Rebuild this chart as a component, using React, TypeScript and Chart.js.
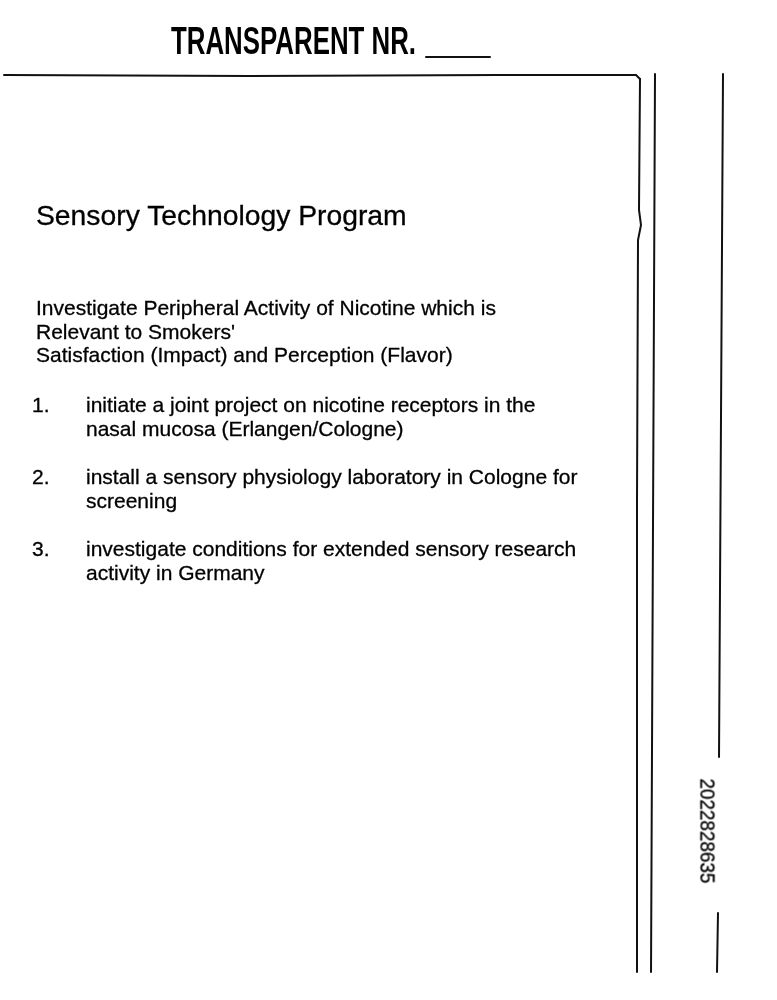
import React, { useEffect, useRef } from 'react';
import Chart from 'chart.js/auto';

// ruled frame of the transparency sheet, in page pixels (x right, y down)
const topRule = [
  { x: 4, y: 75 }, { x: 250, y: 76 }, { x: 500, y: 75 }, { x: 636, y: 75 }, { x: 640, y: 79 },
];
const innerFrame = [
  { x: 640, y: 79 }, { x: 639, y: 210 }, { x: 641, y: 225 }, { x: 638, y: 240 }, { x: 637, y: 500 }, { x: 637, y: 972 },
];
const middleLine = [{ x: 655, y: 74 }, { x: 651, y: 972 }];
const outerUpper = [{ x: 723, y: 74 }, { x: 719, y: 757 }];
const outerLower = [{ x: 718, y: 913 }, { x: 717, y: 972 }];
const blankUnderline = [{ x: 426, y: 57 }, { x: 490, y: 57 }];

const titleText = 'TRANSPARENT NR.';
const headingText = 'Sensory Technology Program';
const introLines = [
  'Investigate Peripheral Activity of Nicotine which is',
  'Relevant to Smokers\'',
  'Satisfaction (Impact) and Perception (Flavor)',
];
const itemNumbers = ['1.', '2.', '3.'];
const itemLines = [
  ['initiate a joint project on nicotine receptors in the', 'nasal mucosa (Erlangen/Cologne)'],
  ['install a sensory physiology laboratory in Cologne for', 'screening'],
  ['investigate conditions for extended sensory research', 'activity in Germany'],
];
const docNumber = '2022828635';

const body = "'Liberation Sans', Arial, Helvetica, sans-serif";

const App = () => {
  const chartRef = useRef<HTMLCanvasElement>(null);
  const chartInstance = useRef<Chart | null>(null);

  useEffect(() => {
    if (!chartRef.current) return;
    if (chartInstance.current) chartInstance.current.destroy();
    const ctx = chartRef.current.getContext('2d');
    if (!ctx) return;

    const rule = (data: { x: number; y: number }[], width: number) => ({
      data,
      showLine: true,
      borderColor: '#111',
      borderWidth: width,
      pointRadius: 0,
      tension: 0,
      fill: false,
    });

    chartInstance.current = new Chart(ctx, {
      type: 'scatter',
      data: {
        datasets: [
          rule(topRule, 2),
          rule(innerFrame, 2),
          rule(middleLine, 2),
          rule(outerUpper, 2),
          rule(outerLower, 2),
          rule(blankUnderline, 2),
        ],
      },
      options: {
        animation: false,
        responsive: false,
        devicePixelRatio: 1,
        layout: { padding: 0 },
        plugins: { legend: { display: false }, tooltip: { enabled: false } },
        scales: {
          x: { type: 'linear', min: 0, max: 777, display: false },
          y: { type: 'linear', min: 0, max: 1000, reverse: true, display: false },
        },
        elements: { line: { borderCapStyle: 'round' } },
      },
    });

    return () => {
      if (chartInstance.current) {
        chartInstance.current.destroy();
        chartInstance.current = null;
      }
    };
  }, []);

  const line = (top: number, left: number, size: number, text: string) => (
    <div
      style={{
        position: 'absolute',
        top,
        left,
        fontSize: size,
        lineHeight: `${size}px`,
        whiteSpace: 'nowrap',
        WebkitTextStroke: '0.3px #000',
      }}
    >
      {text}
    </div>
  );

  return (
    <div
      style={{
        position: 'absolute',
        top: 0,
        left: 0,
        width: 777,
        height: 1000,
        background: '#fff',
        color: '#000',
        fontFamily: body,
        overflow: 'hidden',
      }}
    >
      <canvas ref={chartRef} width={777} height={1000} style={{ position: 'absolute', top: 0, left: 0 }} />

      <div
        style={{
          position: 'absolute',
          top: 22,
          left: 171,
          fontFamily: body,
          fontWeight: 'bold',
          fontSize: 38,
          lineHeight: '38px',
          whiteSpace: 'nowrap',
          transformOrigin: 'left top',
          transform: 'scaleX(0.68)',
        }}
      >
        {titleText}
      </div>

      {line(201, 36, 28.3, headingText)}

      {introLines.map((t, i) => line(297 + i * 23.5, 36, 21, t))}

      {itemLines.map((rows, i) => (
        <React.Fragment key={i}>
          {line(394 + i * 72, 32, 21, itemNumbers[i])}
          {rows.map((t, j) => line(394 + i * 72 + j * 23.5, 86, 21, t))}
        </React.Fragment>
      ))}

      <div
        style={{
          position: 'absolute',
          top: 831,
          left: 708,
          fontFamily: body,
          fontSize: 21,
          lineHeight: '21px',
          whiteSpace: 'nowrap',
          WebkitTextStroke: '0.3px #000',
          transform: 'translate(-50%, -50%) rotate(90deg) scaleX(0.9)',
        }}
      >
        {docNumber}
      </div>
    </div>
  );
};

export default App;
